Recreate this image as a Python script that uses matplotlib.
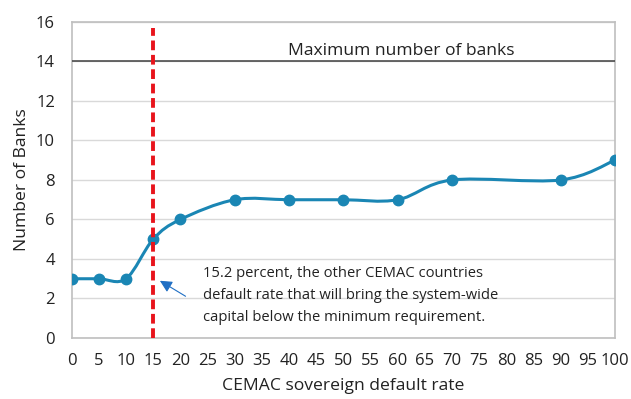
import numpy as np
import matplotlib
matplotlib.use("Agg")
import matplotlib.pyplot as plt
from matplotlib.path import Path
from matplotlib.patches import PathPatch

plt.rcParams['font.family'] = ['Open Sans', 'DejaVu Sans']

default_rate = [0, 5, 10, 15, 20, 30, 40, 50, 60, 70, 90, 100]
num_banks = [3, 3, 3, 5, 6, 7, 7, 7, 7, 8, 8, 9]
max_banks = 14
threshold = 15
x_ticks = list(range(0, 101, 5))
y_ticks = list(range(0, 17, 2))

blue = '#1a86b4'

fig = plt.figure(figsize=(6.31, 3.99), dpi=100)
ax = fig.add_axes([0.1136, 0.1529, 0.8610, 0.7920])

# smoothed line (Excel-style cardinal spline)
xs = np.array(default_rate, float)
ys = np.array(num_banks, float)
pts = np.column_stack([xs, ys])
verts = [tuple(pts[0])]
codes = [Path.MOVETO]
n = len(pts)
for i in range(n - 1):
    p0 = pts[i - 1] if i > 0 else pts[i]
    p1 = pts[i]
    p2 = pts[i + 1]
    p3 = pts[i + 2] if i + 2 < n else pts[i + 1]
    c1 = p1 + (p2 - p0) / 6.0
    c2 = p2 - (p3 - p1) / 6.0
    verts += [tuple(c1), tuple(c2), tuple(p2)]
    codes += [Path.CURVE4] * 3
ax.add_patch(PathPatch(Path(verts, codes), facecolor='none', edgecolor=blue,
                       lw=2.2, zorder=4, capstyle='round', joinstyle='round'))
ax.plot(xs, ys, 'o', color=blue, markersize=7.5, zorder=5)

ax.axhline(max_banks, color='#404040', lw=1.1, zorder=3)
ax.text(60.6, max_banks + 0.12, 'Maximum number of banks', ha='center', va='bottom',
        fontsize=12.6, color='#222222')

ax.plot([threshold, threshold], [0, 15.7], color='#e8141c', lw=2.8,
        dashes=(2.5, 1.2), zorder=6)

ax.annotate('', xy=(15.8, 2.97), xytext=(21.4, 2.04),
            arrowprops=dict(arrowstyle='-|>', color='#1f6fc4', lw=0.8,
                            mutation_scale=18), zorder=7)
ax.text(24.2, 3.62, '15.2 percent, the other CEMAC countries\n'
        'default rate that will bring the system-wide\n'
        'capital below the minimum requirement.',
        ha='left', va='top', fontsize=10.6, linespacing=1.6, color='#222222',
        zorder=8)

ax.set_xlim(0, 100)
ax.set_ylim(0, 16)
ax.set_xticks(x_ticks)
ax.set_yticks(y_ticks)
ax.tick_params(length=0, labelsize=12, colors='#222222')
ax.tick_params(axis='x', pad=11)
ax.tick_params(axis='y', pad=12)
ax.grid(axis='y', color='#d9d9d9', lw=1)
ax.set_axisbelow(True)
for s in ax.spines.values():
    s.set_color('#bfbfbf')
    s.set_linewidth(1.2)
ax.set_xlabel('CEMAC sovereign default rate', fontsize=12.6, color='#222222', labelpad=6)
ax.set_ylabel('Number of Banks', fontsize=12.6, color='#222222', labelpad=4)

fig.savefig('out.png', dpi=100)
